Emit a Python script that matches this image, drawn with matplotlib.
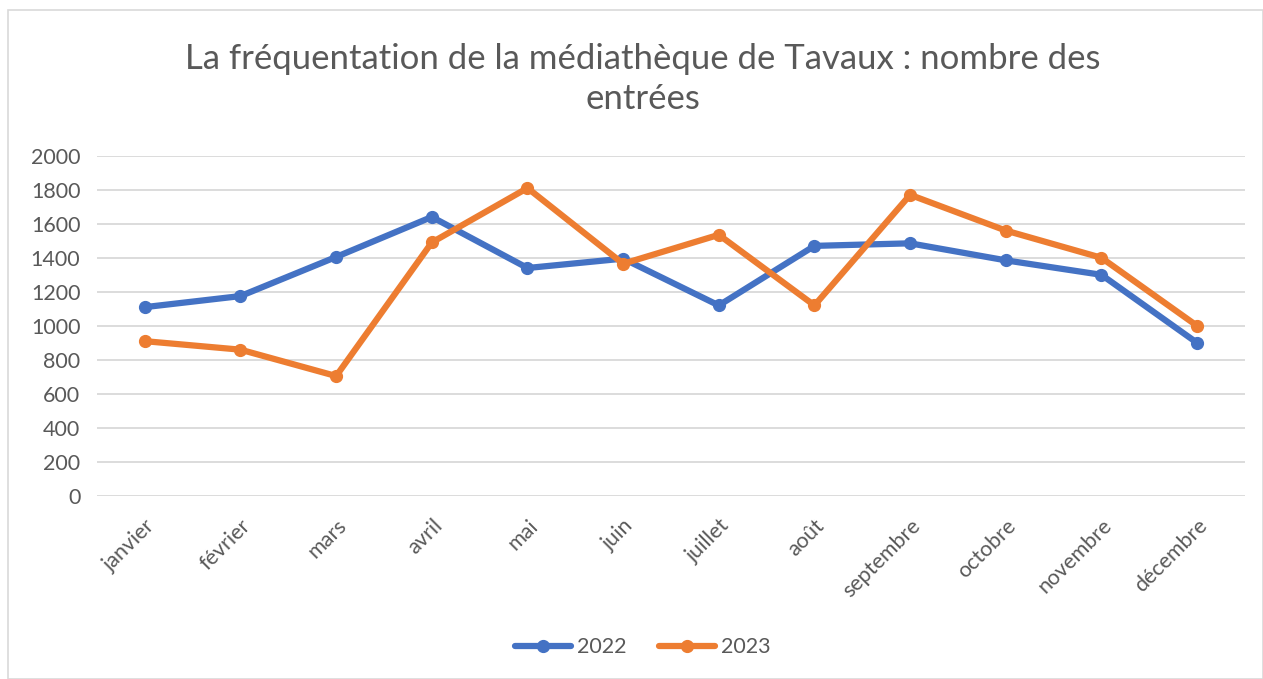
import matplotlib.pyplot as plt
from matplotlib.patches import Rectangle

plt.rcParams['font.family'] = ['Lato', 'DejaVu Sans']

mois = ['janvier', 'février', 'mars', 'avril', 'mai', 'juin', 'juillet',
        'août', 'septembre', 'octobre', 'novembre', 'décembre']
entrees_2022 = [1110, 1175, 1405, 1640, 1340, 1395, 1120, 1470, 1485, 1385, 1300, 900]
entrees_2023 = [910, 860, 705, 1490, 1810, 1365, 1535, 1120, 1770, 1560, 1400, 1000]

gris = '#595959'

fig = plt.figure(figsize=(12.63, 6.79), dpi=100)
ax = fig.add_axes([0.0768, 0.2695, 0.9089, 0.5012])

x = range(len(mois))
ax.plot(x, entrees_2022, color='#4472C4', lw=4.5, marker='o', ms=8.5, label='2022',
        solid_capstyle='round', zorder=3)
ax.plot(x, entrees_2023, color='#ED7D31', lw=4.5, marker='o', ms=8.5, label='2023',
        solid_capstyle='round', zorder=3)

ax.set_xlim(-0.5, len(mois) - 0.5)
ax.set_ylim(0, 2000)
ax.set_yticks(range(0, 2001, 200))
ax.set_xticks(list(x))
ax.set_xticklabels(mois, rotation=45, ha='right', rotation_mode='anchor')
ax.grid(axis='y', color='#D9D9D9', lw=1.3)
ax.set_axisbelow(True)
for s in ax.spines.values():
    s.set_visible(False)
ax.tick_params(length=0, labelsize=15.5, colors=gris)
ax.tick_params(axis='x', pad=14)
ax.tick_params(axis='y', pad=12)

fig.text(0.509, 0.884, 'La fréquentation de la médiathèque de Tavaux : nombre des\nentrées',
         ha='center', va='center', fontsize=25, color=gris, linespacing=1.32)

leg = fig.legend(loc='center', bbox_to_anchor=(0.509, 0.047), ncol=2, frameon=False,
                 fontsize=15.5, handlelength=2.6, columnspacing=1.5, handletextpad=0.3)
for t in leg.get_texts():
    t.set_color(gris)

fig.patches.append(Rectangle((0.006, 0.0), 0.994, 0.986, transform=fig.transFigure,
                             fill=False, edgecolor='#D9D9D9', lw=1.2))

fig.savefig('out.png', dpi=100)
